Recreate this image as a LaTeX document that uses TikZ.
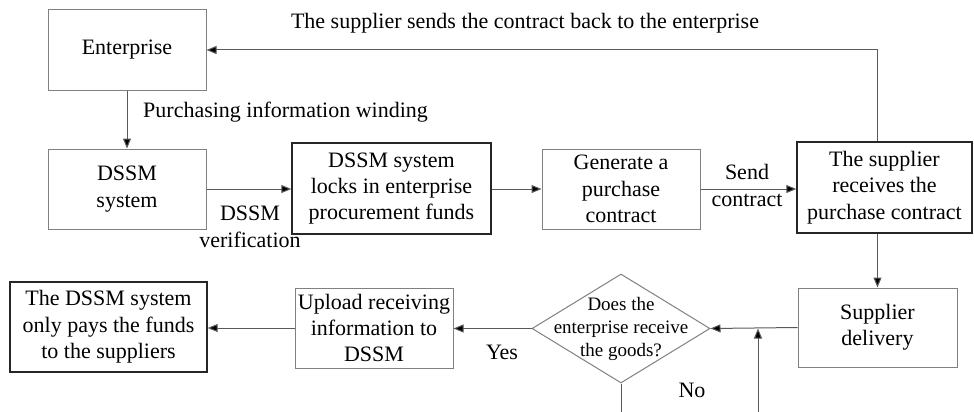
\documentclass[tikz,border=0pt]{standalone}
\usepackage{fontspec}
\setmainfont{Liberation Serif}
\usetikzlibrary{arrows.meta,shapes.geometric}
\definecolor{boxgray}{RGB}{128,128,128}
\definecolor{linegray}{RGB}{90,90,90}
\begin{document}
\begin{tikzpicture}[x=1pt,y=-1pt,
  every node/.style={font=\rmfamily\fontsize{22}{26.4}\selectfont, inner sep=0pt, align=center},
  graybox/.style={draw=boxgray, line width=1pt, rectangle},
  blackbox/.style={draw=black!85, line width=1.4pt, rectangle},
  diam/.style={draw=boxgray, line width=1pt, diamond, minimum width=178pt, minimum height=109pt},
  flow/.style={draw=linegray, line width=1pt, -{Triangle[length=10pt,width=8pt,fill=black]}},
  plain/.style={draw=linegray, line width=1pt},
  lbl/.style={anchor=base}
]
\useasboundingbox (0,0) rectangle (974,412);

% boxes
\node[graybox, minimum width=158pt, minimum height=80pt] (ent) at (127,50) {Enterprise};
\node[graybox, minimum width=158pt, minimum height=80pt] (dssm) at (127,189) {DSSM\\system};
\node[blackbox, minimum width=199pt, minimum height=91pt] (lock) at (391.5,188.5) {DSSM system\\locks in enterprise\\procurement funds};
\node[graybox, minimum width=158pt, minimum height=80pt] (gen) at (621,189) {Generate a\\purchase\\contract};
\node[blackbox, minimum width=175pt, minimum height=91pt] (rec) at (884.5,187.5) {The supplier\\receives the\\purchase contract};
\node[graybox, minimum width=159pt, minimum height=79pt] (deliv) at (877.5,327.5) {Supplier\\delivery};
\node[diam] (q) at (621,328.5) {};
\node[font=\rmfamily\fontsize{19}{23}\selectfont] (qt) at (q.center) {Does the\\enterprise receive\\the goods?};
\node[graybox, minimum width=158pt, minimum height=80pt] (up) at (374,328) {Upload receiving\\information to\\DSSM};
\node[blackbox, minimum width=197pt, minimum height=90pt] (pays) at (108.5,327) {The DSSM system\\only pays the funds\\to the suppliers};

% labels
\node[lbl] (ltop) at (525,29) {The supplier sends the contract back to the enterprise};
\node[anchor=base west] (lpur) at (143,117) {Purchasing information winding};
\node[lbl] (lver) at (250,247) {DSSM\\verification};
\node[lbl] (lsend) at (747,206) {Send\\contract};
\node[lbl] (lyes) at (502,359) {Yes};
\node[lbl] (lno) at (692,397) {No};

% coordinates
\coordinate (corner) at (deliv.north |- ent.east);
\coordinate (noend) at (621,412);
\coordinate (upstart) at (758,412);

% connectors
\draw[flow] (ent.south) -- (dssm.north);
\draw[flow] (dssm.east) -- (dssm.east -| lock.west);
\draw[flow] (lock.east |- gen.west) -- (gen.west);
\draw[flow] (gen.east) -- (gen.east -| rec.west);
\draw[flow] (deliv.north |- rec.north) -- (corner) -- (ent.east);
\draw[flow] (deliv.north |- rec.south) -- (deliv.north);
\draw[flow] (deliv.west) -- (q.east);
\draw[flow] (q.west) -- (q.west -| up.east);
\draw[flow] (up.west) -- (up.west -| pays.east);
\draw[plain] (q.south) -- (noend);
\draw[flow] (upstart) -- (upstart |- q.east);
\end{tikzpicture}
\end{document}
